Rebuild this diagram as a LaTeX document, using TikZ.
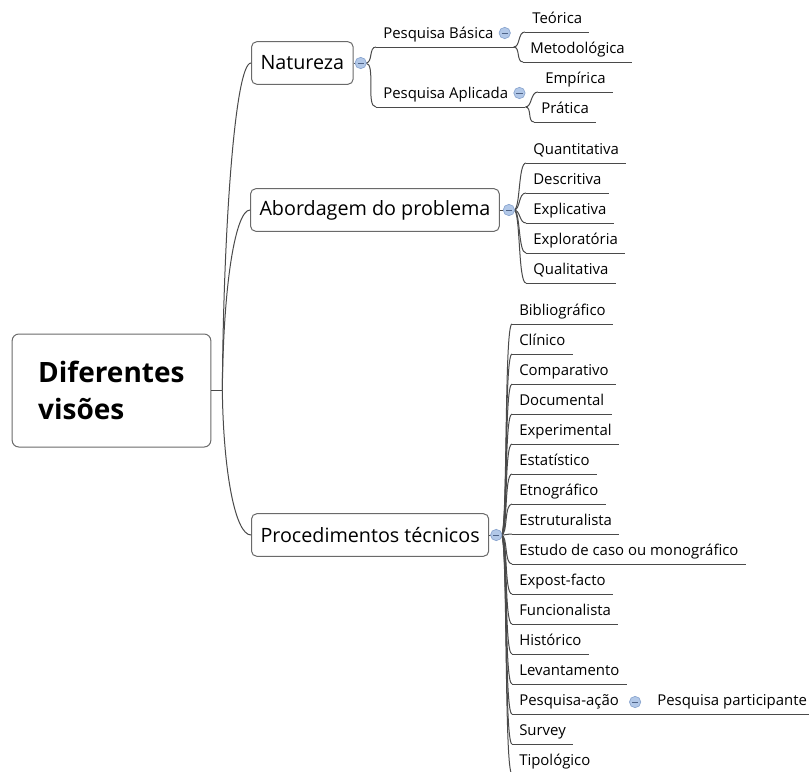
\documentclass[tikz,border=0pt]{standalone}
\usepackage{fontspec}
\setmainfont{Open Sans}
\usetikzlibrary{calc}
\definecolor{linegray}{HTML}{4A4A4A}
\definecolor{boxgray}{HTML}{6A6A6A}
\definecolor{togglefill}{HTML}{B2C8E8}
\definecolor{toggledraw}{HTML}{8AA5CF}
\definecolor{togglemark}{HTML}{4F6488}
\begin{document}
\begin{tikzpicture}[x=0.75pt,y=-0.75pt,
  conn/.style={draw=linegray,line width=0.75pt},
  rootbox/.style={draw=boxgray,line width=0.75pt,fill=white,rounded corners=5pt,
    align=left,text width=110pt,inner xsep=19.5pt,minimum height=84.75pt,
    font=\bfseries\fontsize{21}{27.75}\selectfont},
  mainbox/.style={draw=boxgray,line width=0.75pt,fill=white,rounded corners=4pt,
    anchor=west,inner xsep=6.75pt,minimum height=32pt,
    font=\fontsize{14.8}{17}\selectfont},
  leaf/.style={anchor=south west,inner xsep=5.25pt,inner ysep=3.5pt,
    text height=8pt,text depth=2.5pt,font=\fontsize{11.2}{13}\selectfont,
    append after command={(\tikzlastnode.south west) edge[conn] (\tikzlastnode.south east)}},
  toggle/.style={circle,inner sep=0pt,minimum size=8.5pt,fill=togglefill,
    draw=toggledraw,line width=0.5pt,
    path picture={\draw[togglemark,line width=0.6pt]
      ([xshift=-2.3pt]path picture bounding box.center) --
      ([xshift=2.3pt]path picture bounding box.center);}},
  bracket/.style={out=0,in=180,out max distance=5pt,in max distance=6pt}
]
\useasboundingbox (0,0) rectangle (809,771);

% central topic
\node[rootbox] (root) at (111.5,390.5) {Diferentes\\visões};
\coordinate (J) at ($(root.east)+(11,0)$);

% main branches
\node[mainbox] (nat) at (251,63) {Natureza};
\node[mainbox] (abo) at (250,210) {Abordagem do problema};
\node[mainbox] (pro) at (251,535) {Procedimentos técnicos};

\draw[conn] (root.east) -- (J);
\draw[conn] (J) .. controls +(1,-160) and +(-16,0) .. (nat.west);
\draw[conn] (J) .. controls +(1,-110) and +(-14,0) .. (abo.west);
\draw[conn] (J) .. controls +(1,80) and +(-16,0) .. (pro.west);

% Natureza
\node[leaf] (pb) at (376,47) {Pesquisa Básica};
\node[leaf] (pa) at (376,107) {Pesquisa Aplicada};
\node[leaf] (teo) at (525,32) {Teórica};
\node[leaf] (met) at (523,62) {Metodológica};
\node[leaf] (emp) at (538,92) {Empírica};
\node[leaf] (pra) at (534,122) {Prática};

\coordinate (natC) at ($(nat.east)+(12,0)$);
\coordinate (pbE) at ($(pb.south east)+(13,0)$);
\coordinate (paE) at ($(pa.south east)+(10,0)$);
\draw[conn] (nat.east) -- (natC);
\draw[conn] (natC) to[out=0,in=180,max distance=8pt] (pb.south west);
\draw[conn] (natC) to[out=0,in=180,max distance=8pt] (pa.south west);
\draw[conn] (pb.south east) -- (pbE);
\draw[conn] (pa.south east) -- (paE);
\draw[conn] (pbE) to[bracket] (teo.south west);
\draw[conn] (pbE) to[bracket] (met.south west);
\draw[conn] (paE) to[bracket] (emp.south west);
\draw[conn] (paE) to[bracket] (pra.south west);

% Abordagem do problema
\foreach \t [count=\i] in {Quantitativa,Descritiva,Explicativa,Exploratória,Qualitativa}
  \node[leaf] (a\i) at (526,{133+30*\i}) {\t};
\coordinate (aboC) at ($(abo.east)+(14,0)$);
\draw[conn] (abo.east) -- (aboC);
\foreach \i in {1,...,5}
  \draw[conn] (aboC) to[bracket] (a\i.south west);

% Procedimentos técnicos
\foreach \t [count=\i] in {Bibliográfico,Clínico,Comparativo,Documental,Experimental,
    Estatístico,Etnográfico,Estruturalista,Estudo de caso ou monográfico,Expost-facto,
    Funcionalista,Histórico,Levantamento,Pesquisa-ação,Survey,Tipológico}
  \node[leaf] (p\i) at (512,{294+30*\i}) {\t};
\coordinate (proC) at ($(pro.east)+(12,0)$);
\draw[conn] (pro.east) -- (proC);
\foreach \i in {1,...,16}
  \draw[conn] (proC) to[bracket] (p\i.south west);

\node[leaf] (ppa) at (650,714) {Pesquisa participante};
\draw[conn] (p14.south east) -- (ppa.south west);

% collapse toggles
\node[toggle] at ($(nat.east)+(7,0)$) {};
\node[toggle] at ($(abo.east)+(9,0)$) {};
\node[toggle] at ($(pro.east)+(7,0)$) {};
\node[toggle] at ($(pb.south east)+(4,-14)$) {};
\node[toggle] at ($(pa.south east)+(4,-14)$) {};
\node[toggle] at ($(p14.south east)+(9,-12)$) {};
\end{tikzpicture}
\end{document}
